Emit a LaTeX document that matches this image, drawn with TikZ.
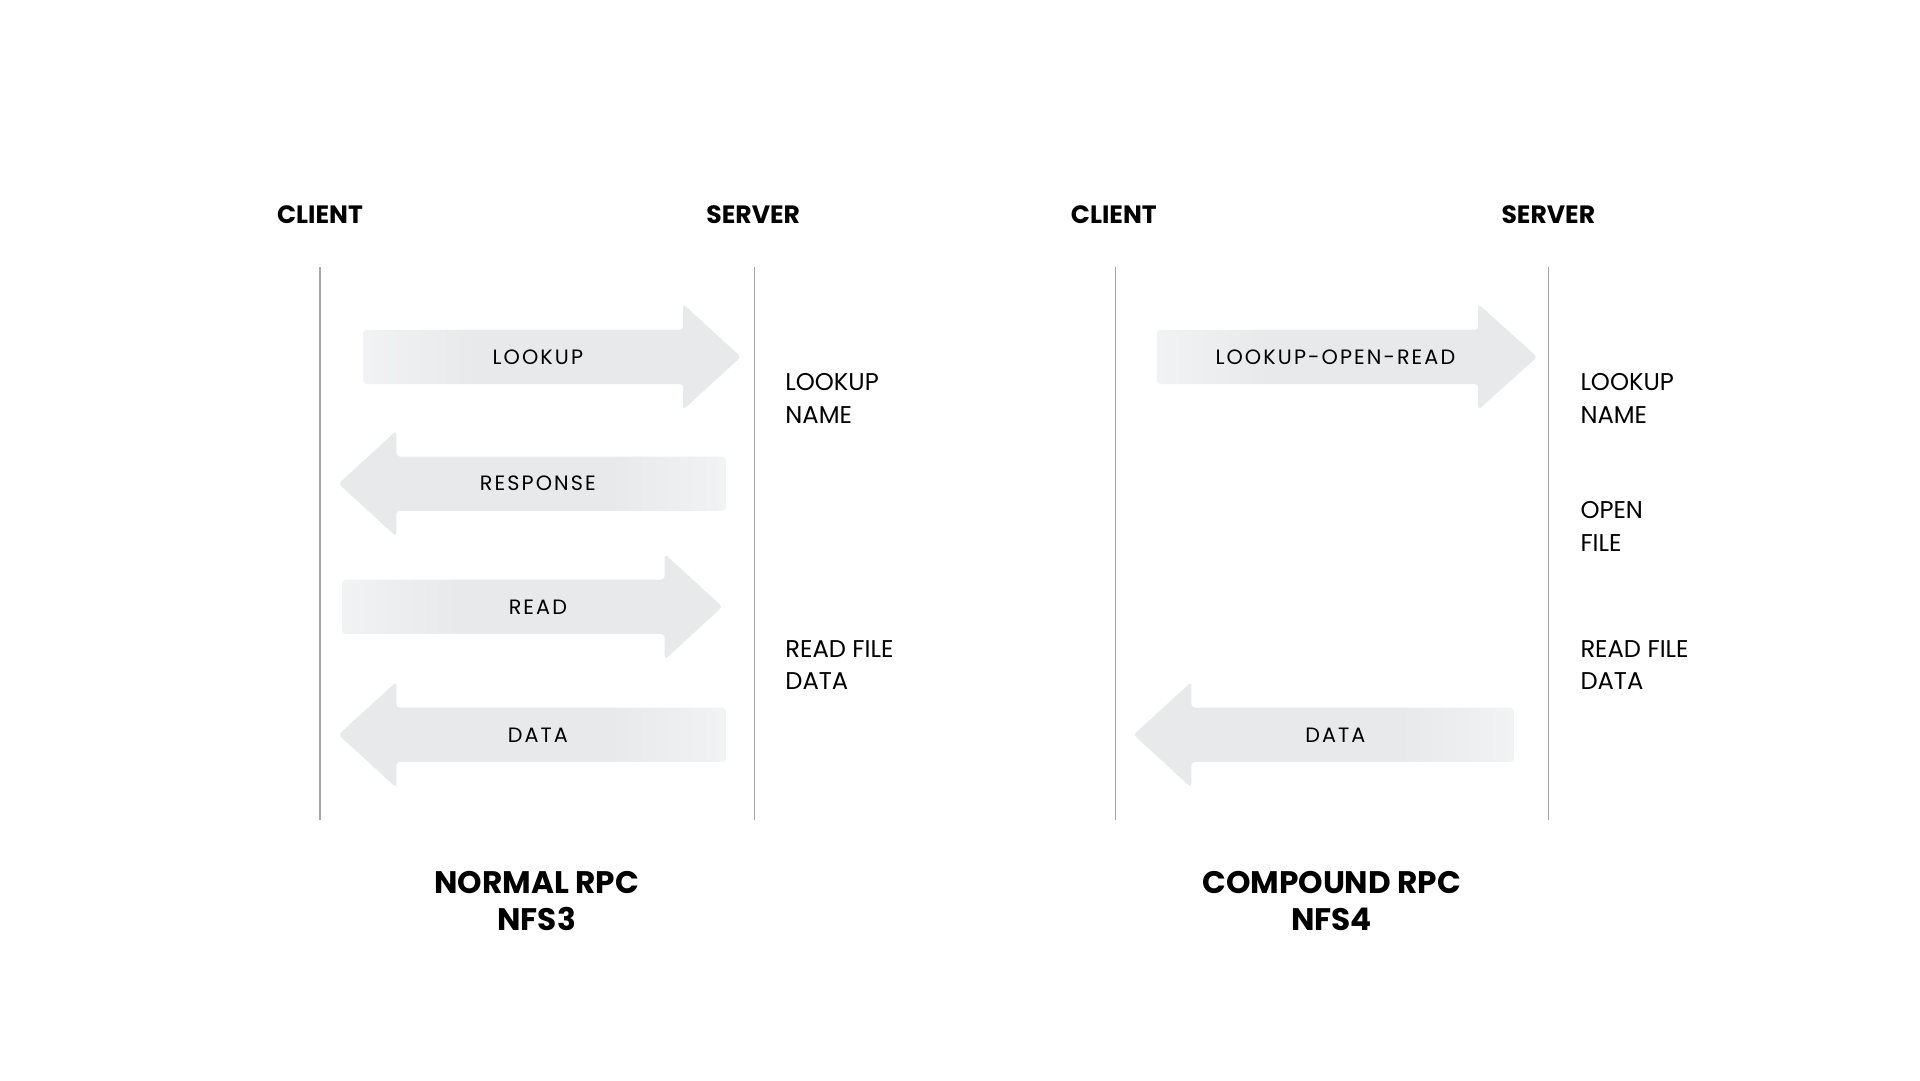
\documentclass[tikz,border=0pt]{standalone}
\usepackage{fontspec}
\setmainfont{Poppins}
\definecolor{ag}{HTML}{E8E9EB}
\begin{document}
\pgfdeclarehorizontalshading{fadeR}{100bp}{color(0bp)=(white); color(4bp)=(white); color(40bp)=(ag); color(62bp)=(ag); color(100bp)=(ag)}
\begin{tikzpicture}[x=0.5mm,y=-0.5mm]
\tikzset{
 life/.style={draw=black!35,line width=1.2},
 hdr/.style={font=\fontsize{29}{34}\selectfont\bfseries},
 lab/.style={font=\fontsize{24}{28}\selectfont\addfontfeatures{LetterSpace=10}},
 side/.style={font=\fontsize{28}{38}\selectfont,align=left,anchor=north west,inner sep=0},
 ttl/.style={font=\fontsize{36}{43}\selectfont\bfseries,align=center},
 arr/.style={shading=fadeR,draw=none,rounded corners=4},
}
\useasboundingbox (0,0) rectangle (1560,877.5);
\newcommand{\rarr}[4]{% tail, base, tip, y
 \shade[arr,shading angle=0] (#1,#4-22) -- (#2,#4-22) -- (#2,#4-43) -- (#3,#4) -- (#2,#4+43) -- (#2,#4+22) -- (#1,#4+22) -- cycle;}
\newcommand{\larr}[4]{% tail, base, tip, y
 \shade[arr,shading angle=180] (#1,#4-22) -- (#2,#4-22) -- (#2,#4-43) -- (#3,#4) -- (#2,#4+43) -- (#2,#4+22) -- (#1,#4+22) -- cycle;}
% arrows
\rarr{295}{555}{602}{290}
\larr{590}{322}{275}{393}
\rarr{278}{540}{587}{493}
\larr{590}{322}{275}{597}
\rarr{940}{1201}{1249}{290}
\larr{1230}{968}{921}{597}
% lifelines
\node[hdr] (c1) at (260,174) {CLIENT};
\node[hdr] (s1) at (612,174) {SERVER};
\node[hdr] (c2) at (905,174) {CLIENT};
\node[hdr] (s2) at (1258,174) {SERVER};
\coordinate (c1a) at (260,217); \coordinate (c1b) at (260,666);
\coordinate (s1a) at (613,217); \coordinate (s1b) at (613,666);
\coordinate (c2a) at (906,217); \coordinate (c2b) at (906,666);
\coordinate (s2a) at (1258,217); \coordinate (s2b) at (1258,666);
\draw[life] (c1a) -- (c1b); \draw[life] (s1a) -- (s1b);
\draw[life] (c2a) -- (c2b); \draw[life] (s2a) -- (s2b);
% arrow labels
\node[lab] (l1) at (437,290) {LOOKUP};
\node[lab] (l2) at (437,393) {RESPONSE};
\node[lab] (l3) at (437,493) {READ};
\node[lab] (l4) at (437,597) {DATA};
\node[lab] (l5) at (1085,290) {LOOKUP-OPEN-READ};
\node[lab] (l6) at (1085,597) {DATA};
% side texts
\node[side] (t1) at (638,303) {LOOKUP\\NAME};
\node[side] (t2) at (638,520) {READ FILE\\DATA};
\node[side] (t3) at (1284,303) {LOOKUP\\NAME};
\node[side] (t4) at (1284,407) {OPEN\\FILE};
\node[side] (t5) at (1284,520) {READ FILE\\DATA};
% titles
\node[ttl] (n1) at (436,732) {NORMAL RPC\\NFS3};
\node[ttl] (n2) at (1082,732) {COMPOUND RPC\\NFS4};
\end{tikzpicture}
\end{document}
